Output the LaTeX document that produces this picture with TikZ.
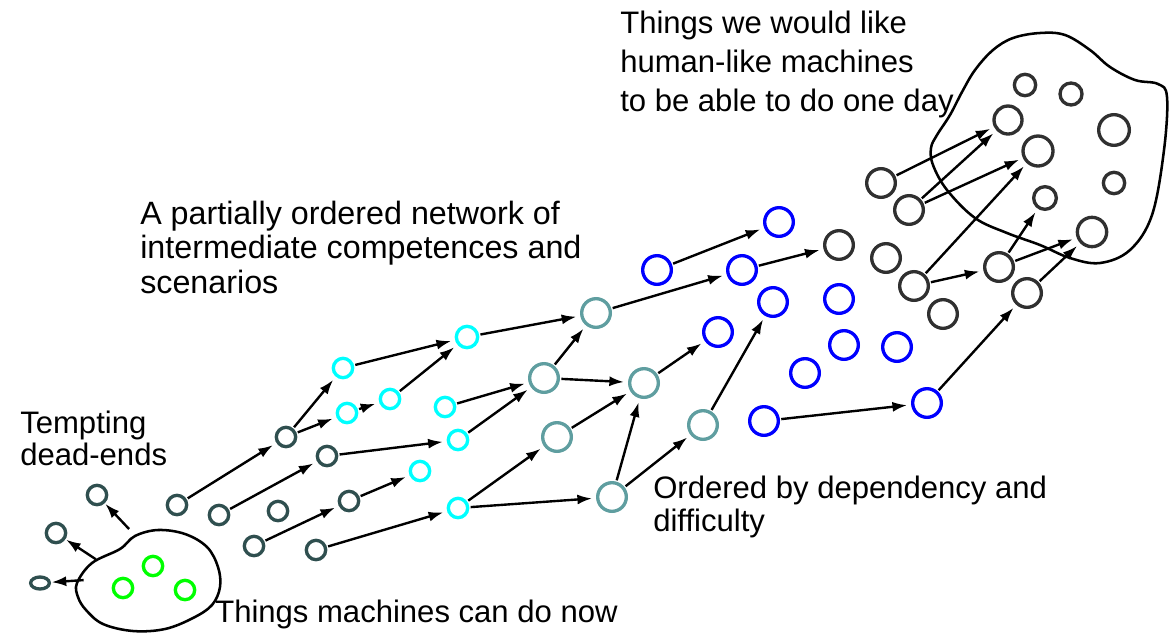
\documentclass[tikz,border=0pt]{standalone}
\usepackage{fontspec}
\setmainfont{Liberation Sans}
\usetikzlibrary{arrows.meta,shapes.geometric}
\definecolor{dkslate}{HTML}{2F4F4F}
\definecolor{cadet}{HTML}{5F9EA0}
\definecolor{dkgray}{HTML}{303030}
\definecolor{lime}{HTML}{00FF00}
\definecolor{cyanc}{HTML}{00FFFF}
\definecolor{bluec}{HTML}{0000FF}

\begin{document}

\begin{tikzpicture}[x=0.75pt,y=-0.75pt,
  nd/.style={circle,draw,line width=2.5pt,inner sep=0pt,minimum size=14.5pt},
  sm/.style={nd,minimum size=14.5pt},
  bg/.style={nd,minimum size=21.5pt},
  dks/.style={sm,draw=dkslate},
  grn/.style={sm,draw=lime},
  cyn/.style={sm,draw=cyanc},
  tea/.style={bg,draw=cadet},
  blu/.style={bg,draw=bluec},
  dkg/.style={bg,draw=dkgray},
  arr/.style={line width=1.8pt,-{Latex[length=11pt,width=7.5pt]},shorten >=3pt,shorten <=1pt},
  blobline/.style={line width=1.9pt,draw=black},
  lbl/.style={font=\fontsize{23.3}{28}\selectfont,inner sep=0pt,anchor=base west}
]
\useasboundingbox (0,0) rectangle (1169,632);

% blobs
\draw[blobline] plot[smooth cycle,tension=0.6] coordinates {(77,583) (92,563) (120,549) (135,536) (158,530) (185,534) (207,547) (218,567) (220,587) (212,605) (193,618) (165,629) (133,631) (103,624) (86,610) (78,597)};
\draw[blobline] plot[smooth cycle,tension=0.6] coordinates {(1013,38) (1040,33) (1065,35) (1090,50) (1110,67) (1135,80) (1158,84) (1167,97) (1164,150) (1152,215) (1130,250) (1100,263) (1070,258) (1040,245) (1007,233) (975,218) (947,190) (933,165) (931,148) (937,135) (950,115) (962,92) (975,70) (993,50)};

% texts
\node[lbl] (t1) at (620,33) {\begin{tabular}[t]{@{}l@{}}Things we would like\\[1.5pt]human-like machines\\[1.5pt]to be able to do one day\end{tabular}};
\node[lbl,font=\fontsize{24.2}{26}\selectfont] (t2) at (140,224) {\begin{tabular}[t]{@{}l@{}}A partially ordered network of\\intermediate competences and\\scenarios\end{tabular}};
\node[lbl] (t3) at (20,433) {\begin{tabular}[t]{@{}l@{}}Tempting\\[-4pt]dead-ends\end{tabular}};
\node[lbl] (t4) at (215,622) {Things machines can do now};
\node[lbl] (t5) at (653,498) {\begin{tabular}[t]{@{}l@{}}Ordered by dependency and\\[-3pt]difficulty\end{tabular}};

% dead ends
\node[dks] (e1) at (97,495) {};
\node[dks] (e2) at (56,533) {};
\node[ellipse,draw=dkslate,line width=2.5pt,inner sep=0pt,minimum width=14pt,minimum height=9pt] (e3) at (40,583) {};
\coordinate (pa) at (130,530);
\coordinate (pb) at (97,560);
\coordinate (pc) at (85,580);

% green
\node[grn] (g1) at (153,566) {};
\node[grn] (g2) at (123,588) {};
\node[grn] (g3) at (185,590) {};

% dark slate
\node[dks] (d1) at (177,505) {};
\node[dks] (d2) at (219,515) {};
\node[dks] (d3) at (286,437) {};
\node[dks] (d4) at (327,456) {};
\node[dks] (d5) at (278,511) {};
\node[dks] (d6) at (349,501) {};
\node[dks] (d7) at (254,546) {};
\node[dks] (d8) at (316,550) {};

% cyan
\node[cyn] (c1) at (343,368) {};
\node[cyn] (c2) at (347,413) {};
\node[cyn] (c3) at (390,399) {};
\node[cyn,minimum width=16pt] (c4) at (467,337) {};
\node[cyn] (c5) at (445,407) {};
\node[cyn] (c6) at (458,440) {};
\node[cyn] (c7) at (420,471) {};
\node[cyn] (c8) at (458,508) {};

% teal
\node[tea] (s1) at (596,313) {};
\node[tea] (s2) at (544,378) {};
\node[tea] (s3) at (557,437) {};
\node[tea] (s4) at (644,383) {};
\node[tea] (s5) at (703,425) {};
\node[tea] (s6) at (612,497) {};

% blue
\node[blu] (b1) at (657,270) {};
\node[blu] (b2) at (779,222) {};
\node[blu] (b3) at (742,270) {};
\node[blu] (b4) at (773,302) {};
\node[blu] (b5) at (718,332) {};
\node[blu] (b6) at (839,299) {};
\node[blu] (b7) at (844,345) {};
\node[blu] (b8) at (897,347) {};
\node[blu] (b9) at (805,373) {};
\node[blu] (b10) at (764,421) {};
\node[blu] (b11) at (927,403) {};

% dark gray outside blob
\node[dkg] (k1) at (839,245) {};
\node[dkg] (k2) at (886,258) {};
\node[dkg] (k3) at (914,286) {};
\node[dkg] (k4) at (943,314) {};
\node[dkg] (k5) at (999,267) {};
\node[dkg] (k6) at (1027,293) {};
\node[dkg] (k7) at (881,183) {};
\node[dkg] (k8) at (909,210) {};

% dark gray inside blob
\node[dkg,minimum size=16pt] (m1) at (1025,85) {};
\node[dkg,minimum width=15pt,minimum height=16.5pt] (m2) at (1071,94) {};
\node[dkg,minimum size=21pt] (m3) at (1008,120) {};
\node[dkg,minimum size=23pt] (m4) at (1114,130) {};
\node[dkg,minimum size=22.5pt] (m5) at (1038,151) {};
\node[dkg,minimum size=16pt] (m6) at (1114,183) {};
\node[dkg,minimum size=17pt] (m7) at (1045,198) {};
\node[dkg,minimum size=22pt] (m8) at (1092,232) {};

% arrows
\draw[arr,shorten >=0.5pt] (pa) -- (e1);
\draw[arr,shorten >=0.5pt] (pb) -- (e2);
\draw[arr,shorten >=0.5pt] (pc) -- (e3);
\draw[arr] (d1) -- (d3);
\draw[arr] (d2) -- (d4);
\draw[arr] (d3) -- (c1);
\draw[arr] (d3) -- (c2);
\draw[arr] (c2) -- (c3);
\draw[arr] (c1) -- (c4);
\draw[arr] (c3) -- (c4);
\draw[arr] (d4) -- (c6);
\draw[arr] (d6) -- (c7);
\draw[arr] (d7) -- (d6);
\draw[arr] (d8) -- (c8);
\draw[arr] (c4) -- (s1);
\draw[arr] (c5) -- (s2);
\draw[arr] (c6) -- (s2);
\draw[arr] (s2) -- (s1);
\draw[arr] (s2) -- (s4);
\draw[arr] (s3) -- (s4);
\draw[arr] (c8) -- (s3);
\draw[arr] (c8) -- (s6);
\draw[arr] (s6) -- (s4);
\draw[arr] (s6) -- (s5);
\draw[arr] (s4) -- (b5);
\draw[arr] (s5) -- (b4);
\draw[arr] (s1) -- (b3);
\draw[arr] (b1) -- (b2);
\draw[arr] (b3) -- (k1);
\draw[arr] (b10) -- (b11);
\draw[arr] (b11) -- (k6);
\draw[arr] (k3) -- (k5);
\draw[arr] (k3) -- (m5);
\draw[arr] (k7) -- (m3);
\draw[arr] (k8) -- (m3);
\draw[arr] (k8) -- (m5);
\draw[arr] (k5) -- (m7);
\draw[arr] (k5) -- (m8);
\draw[arr] (k6) -- (m8);
\end{tikzpicture}

\end{document}
